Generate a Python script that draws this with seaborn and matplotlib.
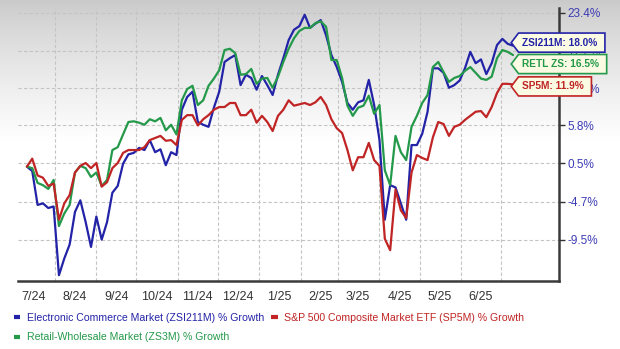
import numpy as np
import pandas as pd
import matplotlib
matplotlib.use("Agg")
import matplotlib.pyplot as plt
from matplotlib.path import Path
from matplotlib.lines import Line2D
from matplotlib import font_manager
import seaborn as sns

# ---------------- data (percent growth since start) ----------------
dates = pd.date_range("2024-07-11", periods=92, freq="4D")

ecommerce = [0.0, -0.6, -5.1, -4.9, -5.5, -5.3, -13.8, -11.8, -10.1, -6.0,
             -4.5, -7.3, -10.4, -6.6, -9.5, -7.3, -3.5, -2.6, 0.4, 1.7,
             1.9, 2.6, 2.3, 3.7, 2.0, 2.4, 0.2, 2.0, 1.6, 8.1,
             10.0, 10.8, 6.3, 5.9, 5.6, 8.4, 10.8, 15.4, 16.0, 16.5,
             11.8, 13.4, 12.9, 11.1, 13.2, 11.8, 10.3, 13.4, 16.0, 18.9,
             20.6, 21.2, 23.1, 20.9, 21.6, 22.2, 19.7, 16.5, 14.6, 12.3,
             9.1, 8.1, 9.2, 9.5, 12.6, 8.8, 3.7, -7.0, -2.5, -2.8,
             -4.9, -7.0, 3.0, 3.0, 4.6, 7.8, 14.4, 14.4, 13.7, 11.4,
             11.8, 12.5, 14.4, 17.0, 15.2, 15.8, 13.5, 15.2, 18.1, 19.1,
             18.3, 18.0]

retail = [0.0, -0.2, -2.2, -2.5, -3.0, -1.8, -7.8, -6.2, -5.1, -0.8,
          0.1, -0.2, -1.4, -0.8, -2.6, -1.8, 2.3, 2.7, 4.5, 6.3,
          6.4, 6.2, 5.9, 6.7, 6.4, 6.9, 5.1, 5.9, 4.5, 9.5,
          11.2, 11.7, 8.8, 9.5, 11.7, 12.8, 14.1, 17.3, 17.5, 16.8,
          13.4, 13.5, 14.3, 12.0, 12.8, 12.9, 11.4, 13.1, 15.4, 17.5,
          19.2, 20.4, 20.9, 20.9, 21.7, 22.0, 21.1, 15.7, 15.7, 12.9,
          8.7, 7.2, 8.4, 8.7, 10.2, 7.5, 8.8, -0.5, -2.5, 4.3,
          2.0, 0.9, 5.6, 7.2, 9.1, 10.3, 14.6, 15.4, 13.8, 12.3,
          12.9, 13.2, 14.0, 14.6, 13.7, 12.8, 12.6, 13.1, 16.0, 17.3,
          17.0, 16.5]

sp500 = [0.0, 1.1, -1.2, -1.5, -2.6, -2.3, -7.0, -4.9, -3.8, -0.8,
         0.1, 0.5, -0.2, 0.5, -2.7, -2.1, -0.2, 0.5, 1.9, 2.3,
         2.3, 2.3, 2.7, 3.7, 4.0, 4.3, 3.6, 3.7, 3.0, 6.6,
         7.3, 7.3, 5.8, 6.7, 7.3, 8.1, 8.5, 8.5, 9.1, 9.1,
         7.3, 7.3, 8.1, 6.2, 7.2, 6.3, 5.0, 7.2, 8.1, 9.5,
         8.7, 8.9, 9.1, 8.8, 9.2, 10.0, 8.8, 6.7, 5.4, 4.7,
         2.3, -0.5, 1.3, 1.3, 3.3, 0.9, 0.1, -9.4, -10.8, -3.1,
         -5.8, -6.8, -0.8, 1.6, 1.2, 0.9, 4.1, 6.3, 6.0, 4.3,
         5.6, 5.9, 6.6, 7.2, 7.8, 7.9, 7.0, 8.5, 10.6, 12.0,
         12.0, 11.9]

series_keys = ["ZSI211M", "ZS3M", "SP5M"]
legend_labels = ["Electronic Commerce Market (ZSI211M) % Growth",
                 "Retail-Wholesale Market (ZS3M) % Growth",
                 "S&P 500 Composite Market ETF (SP5M) % Growth"]
tag_names = ["ZSI211M", "RETL ZS", "SP5M"]
series_colors = ["#2323a8", "#24994a", "#c02424"]

month_labels = ["7/24", "8/24", "9/24", "10/24", "11/24", "12/24",
                "1/25", "2/25", "3/25", "4/25", "5/25", "6/25"]
y_tick_values = [23.4, 17.2, 11.3, 5.8, 0.5, -4.7, -9.5]

# ---------------- fonts ----------------
sns.set_theme(style="white")
plt.rcParams["font.family"] = ["Liberation Sans", "DejaVu Sans"]
installed = {f.name for f in font_manager.fontManager.ttflist}
if "Liberation Sans Narrow" in installed:
    narrow = ["Liberation Sans Narrow", "DejaVu Sans"]
    tag_size, legend_size = 8.5, 9.0
else:
    narrow = ["Liberation Sans", "DejaVu Sans"]
    tag_size, legend_size = 7.3, 7.6

# ---------------- figure ----------------
W, H = 620, 349
fig = plt.figure(figsize=(W / 100, H / 100), dpi=100)
fig.patch.set_facecolor("white")

# background gradient (grey at top fading to white)
bg = fig.add_axes([0, 0, 1, 1], zorder=-5)
rows = np.arange(H)
shade = np.clip(0.79 + 0.21 * (rows / 140.0) ** 0.8, 0, 1)
grad = np.repeat(shade[:, None, None], 3, axis=2)
bg.imshow(grad, aspect="auto", extent=[0, 1, 0, 1], interpolation="bilinear")
bg.axis("off")

ax = fig.add_axes([18 / W, 1 - 281 / H, (559 - 18) / W, (281 - 8) / H], zorder=1)
ax.set_facecolor("none")

def fwd(p):
    p = np.asarray(p, dtype=float)
    return np.log1p(p / 100.0)

def inv(l):
    l = np.asarray(l, dtype=float)
    return np.expm1(l) * 100.0

ax.set_yscale("function", functions=(fwd, inv))

df = pd.DataFrame({
    "date": np.tile(dates, 3),
    "growth": ecommerce + retail + sp500,
    "series": np.repeat(series_keys, len(dates)),
})
palette = dict(zip(series_keys, series_colors))
sns.lineplot(data=df, x="date", y="growth", hue="series",
             hue_order=series_keys, palette=palette, linewidth=1.6,
             legend=False, ax=ax, zorder=3)

ax.set_ylim(-14.48, 24.24)
ax.set_xlim(pd.Timestamp("2024-07-04 08:00"), pd.Timestamp("2025-08-13 10:00"))
ax.set_xlabel("")
ax.set_ylabel("")

# x axis: grid at month starts, labels mid-month
grid_months = pd.date_range("2024-08-01", periods=12, freq="MS")
label_pos = pd.date_range("2024-07-01", periods=12, freq="MS") + pd.Timedelta(days=15)
ax.set_xticks(grid_months)
ax.set_xticklabels([])
ax.set_xticks(label_pos, minor=True)
ax.set_xticklabels(month_labels, minor=True)
ax.tick_params(axis="x", which="both", length=0)
ax.tick_params(axis="x", which="minor", pad=7, labelsize=9, labelcolor="#333333")

# y axis on the right
ax.yaxis.tick_right()
ax.set_yticks(y_tick_values)
ax.set_yticklabels([f"{v:.1f}%" for v in y_tick_values])
ax.yaxis.set_minor_locator(matplotlib.ticker.NullLocator())
ax.tick_params(axis="y", which="major", length=4, width=1, color="#333333",
               pad=2, labelsize=8.5, labelcolor="#3c3cb4", right=True, left=False)

ax.grid(True, which="major", axis="both", color="#c4c4c4",
        linestyle=(0, (3, 2)), linewidth=0.8)
ax.set_axisbelow(True)

for side in ["left", "top"]:
    ax.spines[side].set_visible(False)
for side in ["right", "bottom"]:
    ax.spines[side].set_visible(True)
    ax.spines[side].set_color("#3a3a3a")
    ax.spines[side].set_linewidth(1.8)

# callout tags at line ends
def tag_box(x0, y0, width, height, mutation_size):
    pad_l = 0.35 * mutation_size
    pad_r = 0.75 * mutation_size
    pad_y = 0.45 * mutation_size
    x0, y0 = x0 - pad_l, y0 - pad_y
    w, h = width + pad_l + pad_r, height + 2 * pad_y
    tip = h * 0.38
    verts = [(x0, y0), (x0 + w, y0), (x0 + w, y0 + h), (x0, y0 + h),
             (x0 - tip, y0 + h / 2), (x0, y0)]
    codes = [Path.MOVETO] + [Path.LINETO] * 4 + [Path.CLOSEPOLY]
    return Path(verts, codes)

tag_offsets = [(6.5, 2.2), (6.5, -6.5), (6.5, -1.4)]
for vals, name, col, off in zip([ecommerce, retail, sp500], tag_names,
                                series_colors, tag_offsets):
    ax.annotate(f"{name}: {vals[-1]:.1f}%", xy=(dates[-1], vals[-1]),
                xytext=off, textcoords="offset points", ha="left", va="center",
                fontsize=tag_size, fontweight="bold", color=col, family=narrow,
                bbox=dict(boxstyle=tag_box, fc="#fbfbe3", ec=col, lw=1.2),
                annotation_clip=False, zorder=6)

# legend
handles = [Line2D([], [], color=c, lw=3, solid_capstyle="butt") for c in series_colors]
fig.legend(handles, legend_labels, loc="upper left",
           bbox_to_anchor=(14 / W, 1 - 313 / H), ncol=2, frameon=False,
           prop={"family": narrow, "size": legend_size},
           handlelength=0.6, handletextpad=0.6, columnspacing=0.7,
           labelspacing=0.9, borderaxespad=0, borderpad=0, labelcolor="linecolor")

fig.savefig("out.png", dpi=100)
